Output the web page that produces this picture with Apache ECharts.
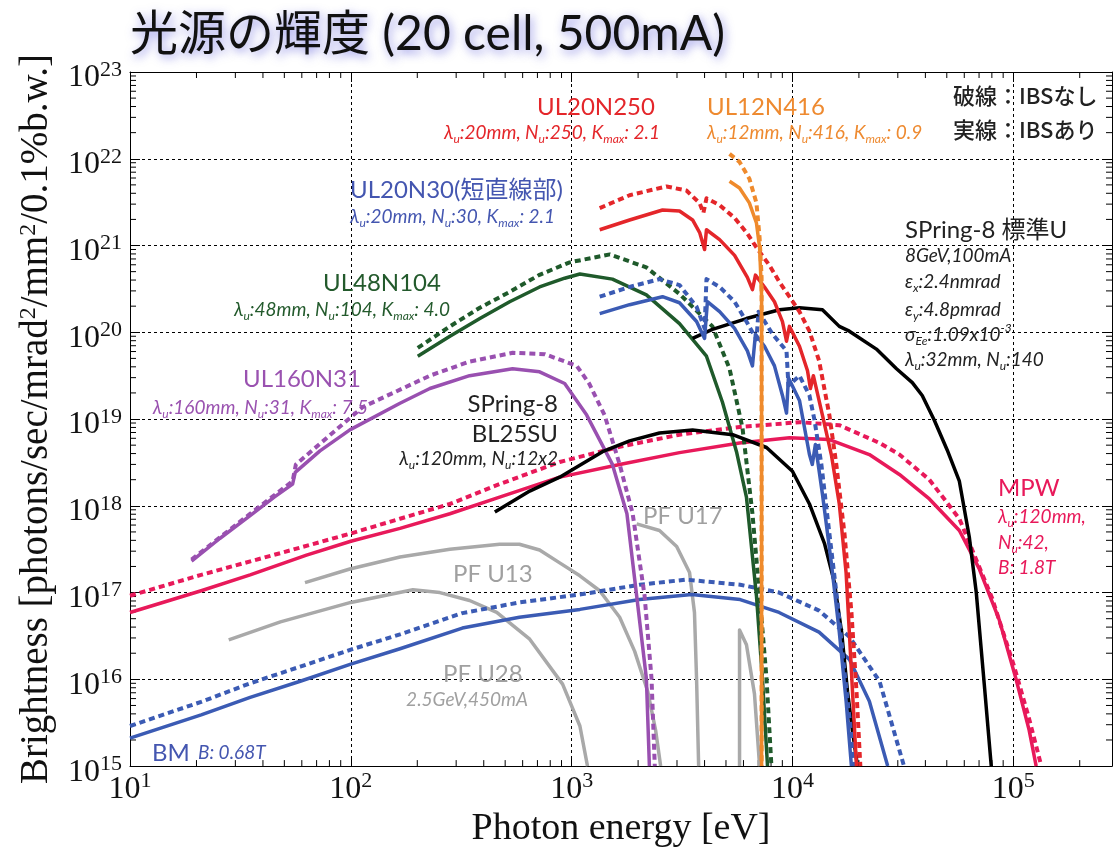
<!DOCTYPE html>
<html><head><meta charset="utf-8">
<script src="https://cdn.jsdelivr.net/npm/echarts@6/dist/echarts.min.js"></script>
<style>html,body{margin:0;padding:0;background:#fff}#c{width:1118px;height:853px}</style>
</head><body><div id="c"></div><script>
// ---- axis ranges ----
const xMin = 10, xMax = 2.8e5, yMin = 1e15, yMax = 1e23;
const titleText = '光源の輝度 (20 cell, 500mA)';
const xName = 'Photon energy [eV]';
const yName = 'Brightness [photons/sec/mrad{s|2}/mm{s|2}/0.1%b.w.]';

// ---- data: [photon energy eV, brightness] ----
const bmSolid = [[10,2.1e15],[21,3.9e15],[35,6.2e15],[59,9.5e15],[100,1.5e16],[167,2.25e16],[320,3.9e16],[580,5.2e16],[1090,6.4e16],[2030,8.3e16],[3500,9.5e16],[5800,8.3e16],[8700,5.9e16],[13200,3.5e16],[18100,1.7e16],[22300,5.6e15],[27000,1e15]];
const bmDash = [[10,2.9e15],[21,5.5e15],[35,9.0e15],[59,1.4e16],[100,2.2e16],[167,3.3e16],[320,5.8e16],[580,7.7e16],[1090,9.5e16],[2030,1.23e17],[3300,1.41e17],[5800,1.23e17],[8700,1.0e17],[13200,6.2e16],[18100,3.1e16],[24800,9.5e15],[32000,1e15]];
const mpwSolid = [[10,5.9e16],[21,1.05e17],[35,1.6e17],[63,2.7e17],[100,3.9e17],[167,5.5e17],[281,8.1e17],[472,1.26e18],[883,2.14e18],[1650,3.0e18],[3080,4.1e18],[5760,5.3e18],[9700,6.1e18],[14700,5.8e18],[22300,3.9e18],[30500,2.3e18],[41700,1.2e18],[57000,5.2e17],[70000,1.9e17],[86500,4.8e16],[103000,1.0e16],[118000,2.6e15],[127000,1e15]];
const mpwDash = [[10,9.2e16],[21,1.6e17],[48,2.85e17],[100,4.8e17],[167,7.1e17],[281,1.05e18],[472,1.78e18],[883,3.2e18],[1650,4.8e18],[3080,6.6e18],[5760,8.1e18],[10800,9.2e18],[16300,8.5e18],[24800,5.3e18],[30500,3.9e18],[41700,2.0e18],[57000,7.1e17],[80000,8.8e16],[101000,1.4e16],[118000,3.5e15],[134000,1e15]];
const pfU13 = [[62,1.3e17],[99,1.87e17],[167,2.57e17],[281,3.16e17],[472,3.6e17],[580,3.6e17],[716,3.1e17],[883,2.2e17],[1090,1.56e17],[1340,1.05e17],[1650,5.2e16],[1930,2.1e16],[2210,7.3e15],[2400,2.6e15],[2530,1e15]];
const pfU28 = [[28,2.85e16],[48,4.6e16],[100,7.7e16],[191,1.08e17],[253,1.0e17],[345,8.1e16],[458,5.9e16],[646,2.9e16],[910,8.8e15],[1090,2.9e15],[1180,1e15]];
const pfU17 = [[1970,6.2e17],[2500,5.2e17],[2990,3.4e17],[3420,1.7e17],[3600,5.9e16],[3680,1.0e16],[3760,1e15]];
const pfU17b = [[5760,1e15],[5760,3.7e16],[6190,2.5e16],[6730,6.8e15],[7100,1e15]];
const ul160Solid = [[19,2.3e17],[25.5,4.2e17],[35,7.7e17],[45,1.26e18],[54.5,1.78e18],[56,2.43e18],[72.5,4.3e18],[99,7.5e18],[167,1.52e19],[228,2.25e19],[345,3.16e19],[540,3.8e19],[716,3.5e19],[930,2.57e19],[1170,1.11e19],[1530,3.0e18],[1780,8.1e17],[1970,9.2e16],[2180,1.03e16],[2250,1e15]];
const ul160Dash = [[19,2.4e17],[35,8.1e17],[54.5,1.92e18],[56.4,3.0e18],[113,1.37e19],[228,3.16e19],[345,4.6e19],[541,5.8e19],[755,5.6e19],[1055,4.1e19],[1200,2.57e19],[1410,1.11e19],[1650,3.0e18],[1890,8.1e17],[2140,9.2e16],[2300,1.03e16],[2380,1e15]];
const ul48Solid = [[201,5.3e19],[281,9.0e19],[384,1.44e20],[524,2.25e20],[716,3.33e20],[930,4.2e20],[1090,4.7e20],[1530,4.1e20],[2180,2.7e20],[3080,1.26e20],[4080,5.3e19],[4820,1.56e19],[5580,4.2e18],[6190,1.26e18],[6870,9.2e16],[7310,1.03e16],[7710,1e15]];
const ul48Dash = [[201,6.6e19],[281,1.17e20],[384,1.92e20],[524,2.92e20],[716,4.6e20],[980,6.4e20],[1490,7.9e20],[2180,5.6e20],[3080,2.77e20],[4340,1.17e20],[5190,3.8e19],[5940,7.9e18],[6590,8.1e17],[7100,9.2e16],[7630,1.03e16],[8030,1e15]];
const ul20n250Solid = [[1340,1.52e21],[1830,1.97e21],[2580,2.57e21],[3080,2.5e21],[3530,1.97e21],[3800,1.41e21],[4000,9.0e20],[4080,1.52e21],[4680,1.17e21],[5470,7.7e20],[6250,4.3e20],[6590,3.1e20],[6800,4.56e20],[7470,3.33e20],[8290,2.25e20],[9010,1.33e20],[9400,7.9e19],[9690,1.17e20],[10760,6.9e19],[11700,3.6e19],[12060,2.25e19],[12440,3.16e19],[13670,1.11e19],[15000,3.9e18],[16300,1.05e18],[17500,1.69e17],[18500,1.23e16],[19500,1e15]];
const ul20n250Dash = [[1340,2.7e21],[1830,3.8e21],[2690,4.8e21],[3310,4.3e21],[3800,3.08e21],[3950,2.37e21],[4080,3.5e21],[4680,2.92e21],[5470,2.08e21],[6250,1.37e21],[6870,9.5e20],[7870,5.9e20],[8730,3.8e20],[9690,2.57e20],[10760,1.73e20],[11940,1.03e20],[13200,4.7e19],[14700,1.11e19],[15800,3.0e18],[17200,4.8e17],[18500,5.9e16],[19500,7.3e15],[20300,1e15]];
const ul12Solid = [[5190,5.5e21],[5760,4.6e21],[6380,3.1e21],[6870,1.82e21],[7100,9.5e20],[7250,2.6e20],[7250,1e15]];
const ul12Dash = [[5190,1.14e22],[5760,9.2e21],[6380,5.9e21],[6870,3.1e21],[7100,1.23e21],[7250,4.3e20],[7250,1e15]];
const ul20n30Solid = [[1340,1.64e20],[1830,2.08e20],[2580,2.57e20],[3080,2.19e20],[3680,1.33e20],[4000,8.5e19],[4120,2.25e20],[4680,1.73e20],[5470,1.11e20],[6250,6.1e19],[6590,4.1e19],[6800,9.5e19],[7470,6.9e19],[8290,4.1e19],[9010,1.87e19],[9400,1.17e19],[9590,3.0e19],[10760,1.64e19],[11940,3.9e18],[12300,3.0e18],[12700,5.1e18],[13670,1.37e18],[15000,2.2e17],[16300,3.5e16],[17500,5.6e15],[18500,1e15]];
const ul20n30Dash = [[1340,2.57e20],[1830,3.33e20],[2500,4.1e20],[3080,3.5e20],[3680,1.97e20],[4000,1.11e20],[4080,4.1e20],[4680,3.33e20],[5470,2.25e20],[6190,1.33e20],[6870,8.3e19],[7020,1.73e20],[8130,9.5e19],[9400,6.1e19],[9590,2.43e19],[10760,3.16e19],[11940,1.87e19],[12590,9.7e18],[13520,3.0e18],[14700,4.8e17],[16000,7.7e16],[17200,1.23e16],[18500,2.25e15],[19100,1e15]];
const sp8StdU = [[3530,8.5e19],[4340,1.08e20],[6190,1.44e20],[8730,1.82e20],[10760,1.92e20],[13670,1.82e20],[16300,1.17e20],[18100,1.03e20],[24000,6.4e19],[29600,3.8e19],[34900,2.63e19],[38700,1.87e19],[43900,9.7e18],[50200,4.4e18],[57000,1.92e18],[63200,4.4e17],[68000,1.0e17],[73900,8.8e15],[79500,1e15]];
const bl25su = [[449,8.5e17],[646,1.48e18],[883,2.14e18],[1380,4.2e18],[1830,5.6e18],[2500,6.9e18],[3530,7.5e18],[5360,6.6e18],[7630,4.7e18],[10000,2.5e18],[11940,1.05e18],[13960,3.7e17],[15500,1.3e17],[16700,3.5e16],[17750,7.3e15],[18700,2.56e15],[19700,1e15]];

// ---- annotation texts ----
const heads = [
  ['UL20N250', 537, 107, 'red'], ['UL12N416', 707, 107, 'orange'],
  ['UL20N30(短直線部)', 350, 190, 'blue'], ['UL48N104', 323, 283, 'green'],
  ['UL160N31', 243, 379, 'purple'], ['SPring-8 標準U', 905, 230, 'dark'],
  ['SPring-8', 558, 404, 'dark', 'right'], ['BL25SU', 558, 434, 'dark', 'right'],
  ['PF U17', 643, 516, 'gray'], ['PF U13', 453, 574, 'gray'], ['PF U28', 443, 674, 'gray'],
  ['MPW', 998, 488, 'crimson'], ['BM', 152, 753, 'blue']
];
const subs = [
  ['λ_{u}:20mm, N_{u}:250, K_{max}: 2.1', 660, 133, 'red', 'right'],
  ['λ_{u}:12mm, N_{u}:416, K_{max}: 0.9', 707, 133, 'orange'],
  ['λ_{u}:20mm, N_{u}:30, K_{max}: 2.1', 350, 217, 'blue'],
  ['8GeV,100mA', 905, 256, 'dark'], ['ε_{x}:2.4nmrad', 905, 282, 'dark'],
  ['ε_{y}:4.8pmrad', 905, 310, 'dark'], ['σ_{Ee}:1.09x10^{-3}', 905, 335, 'dark'],
  ['λ_{u}:32mm, N_{u}:140', 905, 360, 'dark'],
  ['λ_{u}:48mm, N_{u}:104, K_{max}: 4.0', 450, 310, 'green', 'right'],
  ['λ_{u}:160mm, N_{u}:31, K_{max}: 7.5', 368, 408, 'purple', 'right'],
  ['λ_{u}:120mm, N_{u}:12x2', 558, 459, 'dark', 'right'],
  ['2.5GeV,450mA', 528, 700, 'gray', 'right'],
  ['λ_{u}:120mm,', 998, 517, 'crimson'], ['N_{u}:42,', 998, 543, 'crimson'], ['B: 1.8T', 998, 568, 'crimson'],
  ['B: 0.68T', 198, 753, 'blue']
];
const notes = [['破線：IBSなし', 953, 96], ['実線：IBSあり', 953, 130]];

const C = {red:'#e4262a', orange:'#ef8a2c', blue:'#3b5bb4', green:'#1f5a2b', purple:'#9950b0',
  crimson:'#e8195a', gray:'#a9a9a9', black:'#000', dark:'#222'};
const TXT = {red:'#e4262a', orange:'#ee8a30', blue:'#4456b0', green:'#235a2c', purple:'#9a52b0',
  crimson:'#e8195a', gray:'#a0a0a0', dark:'#222'};

function line(name, data, color, dashed) {
  return {type:'line', name, data, showSymbol:false, symbol:'none', silent:true, smooth:false,
    lineStyle:{color, width: dashed ? 4 : 3.5, type: dashed ? [6,4] : 'solid', join:'round'}};
}
const series = [
  line('PF U28', pfU28, C.gray), line('PF U13', pfU13, C.gray),
  line('PF U17', pfU17, C.gray), line('PF U17 (h)', pfU17b, C.gray),
  line('BM dashed', bmDash, C.blue, true), line('BM', bmSolid, C.blue),
  line('MPW dashed', mpwDash, C.crimson, true), line('MPW', mpwSolid, C.crimson),
  line('UL160N31 dashed', ul160Dash, C.purple, true), line('UL160N31', ul160Solid, C.purple),
  line('UL48N104 dashed', ul48Dash, C.green, true), line('UL48N104', ul48Solid, C.green),
  line('SPring-8 BL25SU', bl25su, C.black), line('SPring-8 標準U', sp8StdU, C.black),
  line('UL20N30 dashed', ul20n30Dash, C.blue, true), line('UL20N30', ul20n30Solid, C.blue),
  line('UL20N250 dashed', ul20n250Dash, C.red, true), line('UL20N250', ul20n250Solid, C.red),
  line('UL12N416 dashed', ul12Dash, C.orange, true), line('UL12N416', ul12Solid, C.orange)
];

// minor ticks (2..9 within each decade)
const minorTicks = [];
for (let k = 1; k <= 5; k++) for (let m = 2; m <= 9; m++) { const v = m * Math.pow(10, k); if (v < xMax) minorTicks.push([v, yMin, 0]); }
for (let k = 15; k <= 22; k++) for (let m = 2; m <= 9; m++) minorTicks.push([xMin, m * Math.pow(10, k), 1]);
series.push({type:'custom', silent:true, z:3, clip:false, data:minorTicks,
  renderItem: (params, api) => {
    const cs = params.coordSys, p = api.coord([api.value(0), api.value(1)]), L = 6;
    const st = {stroke:'#000', lineWidth:1};
    if (api.value(2) === 0) {
      return {type:'group', children:[
        {type:'line', shape:{x1:p[0], y1:cs.y+cs.height, x2:p[0], y2:cs.y+cs.height-L}, style:st},
        {type:'line', shape:{x1:p[0], y1:cs.y, x2:p[0], y2:cs.y+L}, style:st}]};
    }
    return {type:'group', children:[
      {type:'line', shape:{x1:cs.x, y1:p[1], x2:cs.x+L, y2:p[1]}, style:st},
      {type:'line', shape:{x1:cs.x+cs.width, y1:p[1], x2:cs.x+cs.width-L, y2:p[1]}, style:st}]};
  }});

function isPow(v){ const l = Math.log10(v); return Math.abs(l - Math.round(l)) < 1e-6; }
function powLabel(v){ return isPow(v) ? '{b|10}{e|' + Math.round(Math.log10(v)) + '}' : ''; }
const labelRich = {
  b:{fontFamily:'Liberation Serif', fontSize:32, color:'#111', lineHeight:38},
  e:{fontFamily:'Liberation Serif', fontSize:22, color:'#111', lineHeight:20, verticalAlign:'top'}
};
const frame = {show:true, lineStyle:{color:'#000', width:1}};
const split = {show:true, lineStyle:{color:'#000', width:1, type:[3,3]}};

function rich(str){ return '{i|' + str.replace(/_\{([^}]*)\}/g, '}{s|$1}{i|').replace(/\^\{([^}]*)\}/g, '}{p|$1}{i|') + '}'; }
function richStyle(color, size){
  const small = Math.round(size * 0.62);
  return {
    i:{fontFamily:'Lato', fontStyle:'italic', fontSize:size, lineHeight:size+6, fill:color},
    s:{fontFamily:'Lato', fontStyle:'italic', fontSize:small, lineHeight:small, fill:color, verticalAlign:'bottom'},
    p:{fontFamily:'Lato', fontStyle:'italic', fontSize:small, lineHeight:small, fill:color, verticalAlign:'top'}
  };
}
const graphics = [{type:'text', left:130, top:11, z:100, style:{text:titleText, fontFamily:'Lato, "Noto Sans CJK JP"', fontSize:48, fill:'#111',
  shadowColor:'rgba(60,60,210,0.55)', shadowBlur:10, shadowOffsetX:2, shadowOffsetY:3,
  textShadowColor:'rgba(60,60,210,0.55)', textShadowBlur:10, textShadowOffsetX:2, textShadowOffsetY:3}}];
heads.forEach(h => graphics.push({type:'text', x:h[1], y:h[2], z:100, style:{text:h[0], fontFamily:'Lato, "Noto Sans CJK JP"', fontSize:24, fill:TXT[h[3]], align:h[4]||'left', verticalAlign:'middle'}}));
subs.forEach(s => graphics.push({type:'text', x:s[1], y:s[2], z:100, style:{text:rich(s[0]), rich:richStyle(TXT[s[3]], 19), align:s[4]||'left', verticalAlign:'middle'}}));
notes.forEach(n => graphics.push({type:'text', x:n[1], y:n[2], z:100, style:{text:n[0], fontFamily:'"Noto Sans CJK JP"', fontSize:22, fontWeight:500, fill:'#222', align:'left', verticalAlign:'middle'}}));

const chart = echarts.init(document.getElementById('c'), null, {renderer:'canvas'});
chart.setOption({
  animation:false, backgroundColor:'#fff',
  grid:{left:130, top:72, right:6, bottom:77, containLabel:false},
  xAxis:[
    {type:'log', logBase:10, min:xMin, max:xMax, splitNumber:5, name:xName, nameLocation:'middle', nameGap:36,
     nameTextStyle:{fontFamily:'Liberation Serif', fontSize:38, color:'#111'},
     axisLine:frame, axisTick:{show:true, inside:true, length:10, lineStyle:{color:'#000'}},
     axisLabel:{formatter:powLabel, rich:labelRich, margin:4}, splitLine:split},
    {type:'log', logBase:10, min:xMin, max:xMax, splitNumber:5, position:'top', axisLine:frame,
     axisTick:{show:true, inside:true, length:10, lineStyle:{color:'#000'}}, axisLabel:{show:false}, splitLine:{show:false}}
  ],
  yAxis:[
    {type:'log', logBase:10, min:yMin, max:yMax, splitNumber:8, name:yName, nameLocation:'middle', nameGap:68,
     nameTextStyle:{fontFamily:'Liberation Serif', fontSize:39, color:'#111', lineHeight:40,
       rich:{s:{fontFamily:'Liberation Serif', fontSize:24, color:'#111', lineHeight:22, verticalAlign:'top'}}},
     axisLine:frame, axisTick:{show:true, inside:true, length:10, lineStyle:{color:'#000'}},
     axisLabel:{formatter:powLabel, rich:labelRich, margin:8, padding:[12,0,0,0]}, splitLine:split},
    {type:'log', logBase:10, min:yMin, max:yMax, splitNumber:8, position:'right', axisLine:frame,
     axisTick:{show:true, inside:true, length:10, lineStyle:{color:'#000'}}, axisLabel:{show:false}, splitLine:{show:false}}
  ],
  series, graphic:graphics
});
</script></body></html>
